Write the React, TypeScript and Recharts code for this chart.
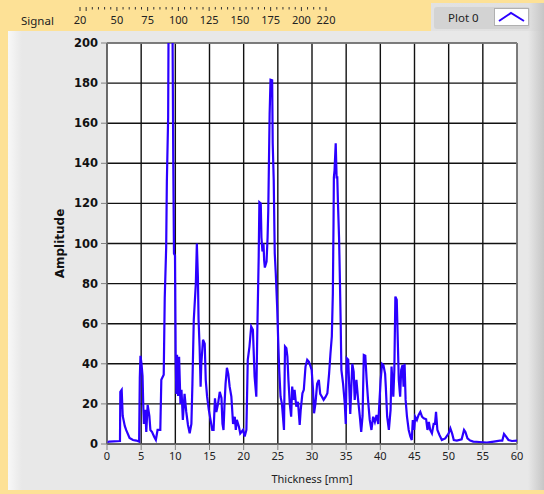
import { CartesianGrid, Line, LineChart, ReferenceLine, XAxis, YAxis } from 'recharts';

// sample positions along the part [mm]
const thickness = [
  0, 0.3, 1.9, 1.95, 2.15, 2.3, 2.6, 2.8, 3.3, 3.8, 4.3, 4.7, 4.8, 4.9, 5.05, 5.2, 5.3, 5.4, 5.6, 5.75,
  5.95, 6.2, 6.35, 6.6, 6.9, 7.15, 7.4, 7.8, 7.95, 8.3, 8.45, 8.66, 8.76, 8.95, 9.05, 9.45, 9.55, 9.7,
  9.8, 9.95, 10.05, 10.15, 10.25, 10.4, 10.55, 10.75, 10.9, 11.1, 11.35, 11.6, 11.85, 12.1, 12.35, 12.5,
  12.7, 13.0, 13.15, 13.3, 13.4, 13.55, 13.7, 13.8, 14.05, 14.3, 14.45, 14.65, 14.9, 15.15, 15.4, 15.6,
  15.8, 16.0, 16.25, 16.5, 16.75, 16.9, 17.05, 17.2, 17.35, 17.55, 17.75, 17.95, 18.2, 18.45, 18.7, 18.85,
  19.0, 19.3, 19.5, 19.9, 20.15, 20.4, 20.6, 20.85, 21.1, 21.35, 21.6, 21.85, 22.0, 22.2, 22.3, 22.5,
  22.6, 22.75, 22.9, 23.0, 23.1, 23.35, 23.5, 23.6, 23.8, 23.93, 24.17, 24.25, 24.4, 24.5, 24.55, 24.7,
  24.9, 25.05, 25.2, 25.4, 25.6, 25.9, 26.05, 26.25, 26.4, 26.55, 26.75, 26.95, 27.1, 27.3, 27.45, 27.7,
  27.95, 28.2, 28.35, 28.6, 28.8, 29.05, 29.3, 29.55, 29.8, 29.95, 30.15, 30.3, 30.5, 30.75, 31.0, 31.2,
  31.45, 31.7, 32.0, 32.25, 32.5, 32.7, 32.9, 33.05, 33.15, 33.2, 33.3, 33.47, 33.6, 33.7, 33.8, 33.96,
  34.06, 34.2, 34.3, 34.55, 34.8, 34.94, 35.08, 35.3, 35.45, 35.6, 35.75, 35.9, 36.1, 36.25, 36.5, 36.75,
  37.0, 37.2, 37.4, 37.58, 37.8, 38.0, 38.2, 38.45, 38.7, 38.95, 39.2, 39.45, 39.7, 39.85, 40.05, 40.25,
  40.45, 40.7, 40.8, 41.0, 41.25, 41.5, 41.64, 41.9, 42.05, 42.2, 42.4, 42.55, 42.7, 42.9, 43.05, 43.25,
  43.4, 43.55, 43.7, 43.9, 44.15, 44.4, 44.6, 44.75, 44.95, 45.1, 45.35, 45.6, 45.85, 46.1, 46.35, 46.7,
  46.9, 47.1, 47.3, 47.55, 47.8, 48.0, 48.15, 48.35, 48.65, 49.0, 49.5, 50.0, 50.25, 50.5, 50.75, 51.2,
  51.9, 52.25, 52.45, 52.75, 53.15, 53.6, 54.5, 55.6, 56.6, 57.5, 57.85, 58.1, 58.4, 58.75, 59.25, 60,
];

const amplitude = [
  0.8, 1.2, 1.5, 26, 27, 14, 9, 7, 3, 2, 1.7, 1.2, 33, 44, 40, 34, 20, 10, 17, 6,
  19.5, 14, 7, 6, 3.6, 2, 7, 7, 32, 34.5, 73, 98, 131, 163, 240, 240, 230, 140,
  95, 94, 44, 25, 44.5, 24, 43.5, 20, 27, 12, 25, 16, 9.5, 5.3, 10, 30,
  62, 80, 100, 83.5, 62, 48.6, 28.6, 40, 52, 50, 32, 23.6, 17, 12, 7, 7,
  22.8, 16, 20, 26, 23, 10, 7, 20, 30, 38, 35, 28.6, 23.6, 10, 13.6, 7,
  12, 8.7, 5.3, 7, 3.7, 7, 42, 48.6, 58.6, 57, 33.6, 23.6, 57, 93.5, 120.6, 120,
  103, 96, 100, 91.5, 88, 91, 103, 116.5, 164.7, 181.7, 181.4, 150, 131.5, 106.5, 95, 85,
  68.5, 52, 37, 23.6, 20, 7, 48.6, 47.8, 43.6, 32, 20, 13.6, 28.6, 22, 27, 18.6,
  21, 9.5, 17, 25.3, 27, 38.6, 42, 41, 38.6, 37, 27, 15.3, 20, 30, 32, 25,
  23.6, 22, 23.6, 25.3, 35, 45, 53.6, 75, 110, 133, 136.5, 150, 133, 133, 120, 103,
  86, 60, 37, 30, 20, 10, 42.8, 42, 28.6, 15, 28, 40, 36, 22, 32, 22,
  13.6, 6, 14, 44.4, 44, 32, 22, 12, 7, 13.6, 11, 14.5, 10, 20, 32, 40,
  39.4, 35, 28.6, 13.6, 7, 17, 38.6, 23.6, 37, 73.5, 72, 52, 32, 23.6, 37, 39.4,
  28.6, 40, 22, 13.6, 7, 3.7, 2, 12, 7, 13.6, 12, 14.5, 16, 13.6, 12.8, 12.3,
  7, 11, 7, 5.3, 10, 10, 16, 7, 4.5, 2, 2.8, 5.3, 7.8, 5.3, 2, 1.7,
  2.3, 7, 6, 2.8, 1.7, 1.2, 1, 0.7, 1.2, 1.7, 1.7, 5, 3.7, 2, 1.5, 1.7,
];

const xTicks = [0, 5, 10, 15, 20, 25, 30, 35, 40, 45, 50, 55, 60];
const yTicks = [0, 20, 40, 60, 80, 100, 120, 140, 160, 180, 200];
const signalLabels = [20, 50, 75, 100, 125, 150, 175, 200, 220];
const signalTicks = Array.from({ length: 41 }, (_, i) => 20 + i * 5);

const data = thickness.map((t, i) => ({ t, a: amplitude[i] }));
const signalData = [{ s: 20 }, { s: 220 }];

const FONT = '"Noto Sans", sans-serif';
const BOLD_FONT = '"DejaVu Sans", sans-serif';
const LINE_COLOR = '#2b00ff';

const SignalTick = ({ x, y, payload }: any) => {
  const v = payload.value;
  const major = v % 25 === 0 || v === 20 || v === 220;
  return (
    <g>
      <line x1={x} x2={x} y1={y + 1} y2={y + (major ? 5 : 3.5)} stroke="#333" />
      {signalLabels.includes(v) && (
        <text x={x} y={y + 18} textAnchor="middle" fontSize={11} fontFamily={FONT} fill="#222">
          {v}
        </text>
      )}
    </g>
  );
};

export default function App() {
  return (
    <div
      style={{
        position: 'absolute',
        left: 0,
        top: 0,
        width: 544,
        height: 494,
        overflow: 'hidden',
        background: '#fde196',
      }}
    >
      {/* gray front panel */}
      <div
        style={{
          position: 'absolute',
          left: 8,
          top: 31,
          width: 536,
          height: 459,
          background:
            'linear-gradient(to right, #f8f8f8 0px, #e8e8e8 14px, #e8e8e8 520px, #c6c6c6 536px)',
        }}
      />
      {/* legend */}
      <div
        style={{
          position: 'absolute',
          left: 431,
          top: 3,
          width: 113,
          height: 28,
          background: 'linear-gradient(to right, #e2e2e2 0px, #e0e0e0 98px, #c6c6c6 113px)',
        }}
      />
      <div
        style={{
          position: 'absolute',
          left: 434,
          top: 7,
          width: 96,
          height: 22,
          background: '#d3d3d3',
          borderRadius: 3,
        }}
      />
      <div
        style={{
          position: 'absolute',
          left: 448,
          top: 10,
          fontFamily: FONT,
          fontSize: 11.5,
          color: '#222',
        }}
      >
        Plot 0
      </div>
      <svg
        width={33}
        height={16}
        style={{ position: 'absolute', left: 494, top: 8, background: '#fff', border: '1px solid #b0b0b0' }}
      >
        <polyline points="4,12 16,4 29,12" fill="none" stroke={LINE_COLOR} strokeWidth={2} />
      </svg>
      <div
        style={{
          position: 'absolute',
          left: 21,
          top: 13,
          fontFamily: FONT,
          fontSize: 11.5,
          color: '#222',
        }}
      >
        Signal
      </div>

      {/* signal scale along the top band */}
      <div style={{ position: 'absolute', left: 0, top: 0 }}>
        <LineChart width={544} height={31} data={signalData} margin={{ top: 0, right: 218, bottom: 0, left: 80 }}>
          <XAxis
            dataKey="s"
            type="number"
            domain={[20, 220]}
            ticks={signalTicks}
            interval={0}
            height={25}
            axisLine={false}
            tickLine={false}
            tickSize={0}
            tickMargin={0}
            tick={<SignalTick />}
          />
          <YAxis hide domain={[0, 1]} />
        </LineChart>
      </div>

      {/* main graph */}
      <div style={{ position: 'absolute', left: 0, top: 0 }}>
        <LineChart width={544} height={494} data={data} margin={{ top: 43, right: 27, bottom: 6, left: 57 }}>
          <CartesianGrid stroke="#111111" strokeWidth={1.4} fill="#ffffff" />
          <XAxis
            dataKey="t"
            type="number"
            domain={[0, 60]}
            ticks={xTicks}
            interval={0}
            allowDataOverflow
            height={44}
            stroke="#808080"
            tickSize={6}
            tickMargin={2}
            tick={{ fontSize: 11, fontFamily: FONT, fill: '#222' }}
            label={{
              value: 'Thickness [mm]',
              position: 'insideBottom',
              offset: 5,
              style: { fontSize: 11, fontFamily: FONT, fill: '#222' },
            }}
          />
          <YAxis
            type="number"
            domain={[0, 200]}
            ticks={yTicks}
            interval={0}
            allowDataOverflow
            width={50}
            stroke="#808080"
            tickSize={6}
            tickMargin={3}
            tick={{ fontSize: 11.5, fontFamily: BOLD_FONT, fontWeight: 'bold', fill: '#111' }}
            label={{
              value: 'Amplitude',
              angle: -90,
              position: 'insideLeft',
              offset: 3,
              style: { textAnchor: 'middle', fontSize: 12, fontFamily: BOLD_FONT, fontWeight: 'bold', fill: '#111' },
            }}
          />
          <ReferenceLine y={200} stroke="#8c8c8c" strokeWidth={1.4} />
          <ReferenceLine x={60} stroke="#8c8c8c" strokeWidth={1.4} />
          <Line
            type="linear"
            dataKey="a"
            stroke={LINE_COLOR}
            strokeWidth={2.2}
            dot={false}
            activeDot={false}
            isAnimationActive={false}
          />
        </LineChart>
      </div>
    </div>
  );
}
